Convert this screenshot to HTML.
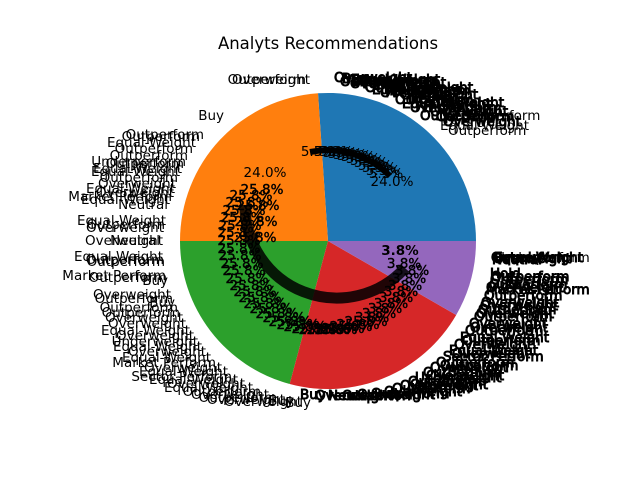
<!DOCTYPE html>
<html><head><meta charset="utf-8"><style>
html,body{margin:0;padding:0;background:#fff;width:640px;height:480px;overflow:hidden}
svg text{font-family:"DejaVu Sans","Liberation Sans",sans-serif;font-size:13.5px;fill:#000}
.e{text-anchor:end}.c{text-anchor:middle}
.d text{stroke:#000;stroke-width:0.9}
.t text{stroke:#000;stroke-width:0.4}
</style></head><body>
<svg width="640" height="480" viewBox="0 0 640 480" xmlns="http://www.w3.org/2000/svg">
<text x="328" y="49" class="c" style="font-size:16.5px">Analyts Recommendations</text>
<g>
<path d="M328 241 L476 241 A148 148 0 0 0 318 93.3 Z" fill="#1f77b4"/>
<path d="M328 241 L318 93.3 A148 148 0 0 0 180 241 Z" fill="#ff7f0e"/>
<path d="M328 241 L180 241 A148 148 0 0 0 289.7 384 Z" fill="#2ca02c"/>
<path d="M328 241 L289.7 384 A148 148 0 0 0 456.2 315 Z" fill="#d62728"/>
<path d="M328 241 L456.2 315 A148 148 0 0 0 476 241 Z" fill="#9467bd"/>
</g>
<path d="M245 205 A92 92 0 0 0 405 268" fill="none" stroke="#000" stroke-width="11" stroke-opacity="0.85"/>
<path d="M310 152 A89 89 0 0 1 390 176" fill="none" stroke="#000" stroke-width="6"/>
<g dominant-baseline="middle">
<text x="318" y="152" class="c">5.3%</text><text x="331" y="152" class="c">5.3%</text><text x="336" y="152" class="c">5.3%</text><text x="340" y="153" class="c">5.3%</text><text x="345" y="154" class="c">5.3%</text><text x="350" y="155" class="c">5.3%</text><text x="354" y="156" class="c">5.3%</text><text x="358" y="157" class="c">5.3%</text><text x="363" y="159" class="c">5.3%</text><text x="367" y="161" class="c">5.3%</text><text x="371" y="163" class="c">5.3%</text><text x="375" y="166" class="c">5.3%</text><text x="379" y="168" class="c">5.3%</text><text x="383" y="171" class="c">5.3%</text><text x="386" y="174" class="c">5.3%</text>
<text x="392" y="182" class="c">24.0%</text><text x="265" y="173" class="c">24.0%</text>
<g class="t">
<text x="251" y="196" class="c">25.8%</text><text x="247" y="203" class="c">25.8%</text><text x="244" y="211" class="c">25.8%</text><text x="242" y="218" class="c">25.8%</text><text x="240" y="226" class="c">25.8%</text><text x="239" y="233" class="c">25.8%</text><text x="239" y="241" class="c">25.8%</text><text x="239" y="249" class="c">25.8%</text><text x="240" y="256" class="c">25.8%</text><text x="242" y="264" class="c">25.8%</text><text x="244" y="271" class="c">25.8%</text><text x="247" y="279" class="c">25.8%</text><text x="251" y="286" class="c">25.8%</text><text x="255" y="292" class="c">25.8%</text><text x="260" y="298" class="c">25.8%</text><text x="265" y="304" class="c">25.8%</text><text x="271" y="309" class="c">25.8%</text><text x="277" y="314" class="c">25.8%</text><text x="284" y="318" class="c">25.8%</text><text x="290" y="322" class="c">25.8%</text><text x="298" y="325" class="c">25.8%</text><text x="305" y="327" class="c">25.8%</text><text x="313" y="329" class="c">25.8%</text><text x="320" y="330" class="c">25.8%</text><text x="328" y="330" class="c">25.8%</text><text x="336" y="330" class="c">25.8%</text><text x="343" y="329" class="c">25.8%</text><text x="351" y="327" class="c">25.8%</text><text x="358" y="325" class="c">25.8%</text><text x="366" y="322" class="c">25.8%</text><text x="372" y="318" class="c">3.8%</text><text x="379" y="314" class="c">3.8%</text><text x="385" y="309" class="c">3.8%</text><text x="391" y="304" class="c">3.8%</text><text x="396" y="298" class="c">3.8%</text><text x="401" y="292" class="c">3.8%</text><text x="405" y="286" class="c">3.8%</text><text x="409" y="279" class="c">3.8%</text><text x="412" y="271" class="c">3.8%</text><text x="404" y="264" class="c">3.8%</text>
<text x="262" y="190" class="c">25.8%</text><text x="258" y="206" class="c">25.8%</text><text x="256" y="222" class="c">25.8%</text><text x="255" y="238" class="c">25.8%</text>
</g>
<text x="400" y="251" class="c" style="font-weight:bold">3.8%</text>
<g class="d">
<text x="334" y="78">Overweight</text><text x="342" y="79">Buy</text><text x="351" y="80">Equal-Weight</text><text x="359" y="81">Outperform</text><text x="368" y="83">Overweight</text><text x="376" y="85">Buy</text><text x="384" y="88">Equal-Weight</text><text x="392" y="91">Outperform</text><text x="400" y="95">Overweight</text><text x="408" y="99">Neutral</text><text x="415" y="103">Equal-Weight</text><text x="423" y="108">Outperform</text><text x="430" y="112">Overweight</text><text x="436" y="117">Outperform</text><text x="443" y="122">Overweight</text>
<text x="350" y="84">Overweight</text><text x="365" y="88">Outperform</text><text x="380" y="93">Overweight</text><text x="395" y="100">Outperform</text><text x="410" y="108">Overweight</text><text x="420" y="116">Outperform</text><text x="340" y="82">Outperform</text><text x="372" y="90">Equal-Weight</text><text x="402" y="104">Equal-Weight</text>
</g>
<text x="440" y="126">Equal-Weight</text><text x="448" y="131">Outperform</text><text x="462" y="116">Outperform</text>
<text x="310" y="80" class="e">Overweight</text><text x="306" y="80" class="e">Outperform</text>
<text x="224" y="116" class="e">Buy</text>
<text x="204" y="135" class="e">Outperform</text><text x="200" y="137" class="e">Outperform</text><text x="196" y="143" class="e">Equal-Weight</text><text x="193" y="149" class="e">Outperform</text><text x="188" y="156" class="e">Outperform</text><text x="186" y="162" class="e">Underperform</text><text x="184" y="164" class="e">Outperform</text><text x="182" y="169" class="e">Equal-Weight</text><text x="180" y="172" class="e">Equal-Weight</text><text x="178" y="178" class="e">Outperform</text><text x="176" y="184" class="e">Overweight</text><text x="175" y="189" class="e">Equal-Weight</text><text x="174" y="193" class="e">Overweight</text><text x="172" y="197" class="e">Market Perform</text><text x="170" y="200" class="e">Equal-Weight</text><text x="168" y="205" class="e">Neutral</text>
<text x="166" y="221" class="e">Equal-Weight</text><text x="165" y="225" class="e">Outperform</text><text x="164" y="228" class="e">Overweight</text><text x="163" y="241" class="e">Overweight</text><text x="160" y="241" class="e">Neutral</text>
<text x="163" y="257" class="e">Equal-Weight</text><text x="164" y="260" class="e">Outperform</text><text x="165" y="262" class="e">Outperform</text><text x="166" y="276" class="e">Market Perform</text><text x="167" y="278" class="e">Outperform</text><text x="168" y="281" class="e">Buy</text>
<text x="171" y="295" class="e">Overweight</text><text x="173" y="299" class="e">Outperform</text><text x="175" y="303" class="e">Buy</text><text x="178" y="308" class="e">Outperform</text><text x="180" y="313" class="e">Outperform</text><text x="183" y="318" class="e">Overweight</text><text x="186" y="324" class="e">Overweight</text><text x="190" y="331" class="e">Equal-Weight</text><text x="194" y="336" class="e">Overweight</text><text x="198" y="342" class="e">Underweight</text><text x="202" y="347" class="e">Equal-Weight</text><text x="206" y="352" class="e">Overweight</text><text x="211" y="358" class="e">Equal-Weight</text><text x="216" y="363" class="e">Market Perform</text><text x="222" y="368" class="e">Overweight</text><text x="228" y="372" class="e">Equal-Weight</text><text x="232" y="377" class="e">Sector Perform</text><text x="238" y="380" class="e">Equal-Weight</text><text x="245" y="384" class="e">Overweight</text><text x="253" y="388" class="e">Equal-Weight</text><text x="261" y="392" class="e">Outperform</text><text x="269" y="395" class="e">Overweight</text><text x="277" y="398" class="e">Outperform</text><text x="285" y="400" class="e">Overweight</text><text x="294" y="401" class="e">Buy</text><text x="302" y="402" class="e">Overweight</text><text x="311" y="403" class="e">Buy</text>
<g class="d">
<text x="300" y="395">Buy</text><text x="315" y="396">Overweight</text><text x="328" y="396">Neutral</text><text x="342" y="396">Outperform</text><text x="357" y="395">Overweight</text><text x="371" y="394">Outperform</text><text x="384" y="392">Overweight</text><text x="392" y="389">Outperform</text><text x="400" y="386">Overweight</text><text x="408" y="382">Outperform</text><text x="415" y="378">Underweight</text><text x="423" y="373">Outperform</text><text x="430" y="368">Overweight</text><text x="436" y="363">Outperform</text><text x="443" y="357">Sector Perform</text><text x="449" y="351">Equal-Weight</text><text x="454" y="345">Overweight</text><text x="460" y="338">Equal-Weight</text><text x="465" y="331">Outperform</text><text x="469" y="324">Overweight</text><text x="474" y="317">Outperform</text><text x="478" y="310">Outperform</text><text x="481" y="303">Overweight</text><text x="484" y="296">Outperform</text><text x="486" y="290">Market Perform</text><text x="489" y="285">Outperform</text><text x="490" y="280">Outperform</text><text x="490" y="274">Hold</text><text x="491" y="277">Outperform</text>
<text x="470" y="328">Overweight</text><text x="462" y="341">Outperform</text><text x="452" y="354">Overweight</text><text x="440" y="366">Outperform</text><text x="426" y="376">Overweight</text><text x="410" y="385">Overweight</text><text x="480" y="306">Overweight</text><text x="486" y="288">Overweight</text><text x="476" y="314">Overweight</text>
<text x="491" y="258">Outperform</text><text x="494" y="258">Equal-Weight</text><text x="493" y="259">Overweight</text><text x="492" y="260">Neutral</text>
</g>
<text x="495" y="258">Underperform</text>
</g>
</svg>
</body></html>
